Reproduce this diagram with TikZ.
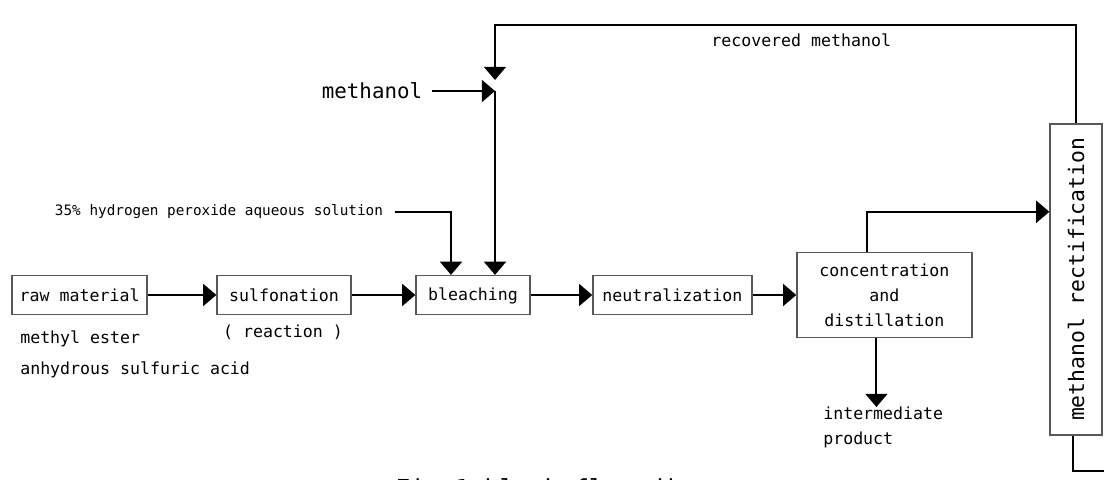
\documentclass[tikz,border=0pt]{standalone}
\usepackage{graphicx}
\usepackage{fontspec}
\setmonofont{DejaVu Sans Mono}
\usepackage{tikz}
\usetikzlibrary{arrows.meta}
\tikzset{
  flowarrow/.style={-{Triangle[length=0.33cm, width=0.55cm]}, line width=1.4pt},
  flowline/.style={line width=1.4pt},
  procbox/.style={draw=black!65, line width=0.9pt, inner sep=0pt, minimum height=0.975cm, align=center, font=\ttfamily\fontsize{11.8}{17.8}\selectfont},
  sidetext/.style={inner sep=0pt, font=\ttfamily\fontsize{11.8}{17.8}\selectfont}
}

\begin{document}
\begin{tikzpicture}
  \useasboundingbox (0,0) rectangle (27.6,11.975);
  % process boxes
  \node[procbox, minimum width=3.375cm] (raw) at (1.99,4.6) {raw material};
  \node[procbox, minimum width=3.35cm] (sulf) at (7.1,4.6) {sulfonation};
  \node[procbox, minimum width=2.85cm] (bleach) at (11.825,4.6) {bleaching\strut};
  \node[procbox, minimum width=3.975cm] (neutral) at (16.81,4.6) {neutralization};
  \node[procbox, minimum width=4.375cm, minimum height=2.125cm] (conc) at (22.11,4.6) {concentration\\and\\distillation};
  \node[procbox, minimum width=1.3cm, minimum height=7.775cm, font=\ttfamily\fontsize{15.2}{18}\selectfont] (rect) at (26.9,4.99) {\rotatebox{90}{methanol rectification}};
  % texts
  \node[sidetext] (react) at (7.075,3.675) {( reaction )};
  \node[sidetext, anchor=west] (ester) at (0.5,3.5) {methyl ester};
  \node[sidetext, anchor=west] (acid) at (0.5,2.725) {anhydrous sulfuric acid};
  \node[sidetext, font=\ttfamily\fontsize{10.2}{12}\selectfont] (h2o2) at (5.475,6.675) {35\% hydrogen peroxide aqueous solution};
  \node[sidetext, font=\ttfamily\fontsize{14.8}{17}\selectfont] (meoh) at (9.3,9.7) {methanol};
  \node[sidetext] (recov) at (20.03,10.975) {recovered methanol};
  \node[sidetext, anchor=north west, align=left] (prod) at (20.575,1.8) {intermediate\\product};
  \node[sidetext, anchor=base west, font=\ttfamily\fontsize{17.6}{20}\selectfont] (caption) at (9.875,-0.45) {Fig.1 block flow diagram};
  \coordinate (mix) at (12.375,9.7);
  \coordinate (loop) at (12.375,11.35);
  \coordinate (exit) at (27.6,0.2);
  \coordinate (drop) at ([xshift=-0.2cm]conc.south);
  % main line
  \draw[flowarrow] (raw) -- (sulf);
  \draw[flowarrow] (sulf) -- (bleach);
  \draw[flowarrow] (bleach) -- (neutral);
  \draw[flowarrow] (neutral) -- (conc);
  \draw[flowarrow] (drop) -- (drop |- prod.north);
  \draw[flowarrow] ([xshift=-0.44cm]conc.north) |- ([yshift=1.69cm]rect.west);
  % methanol loop
  \draw[flowarrow] (rect.north) |- (loop) -- ([yshift=0.275cm]mix);
  \draw[flowarrow] ([xshift=0.25cm]meoh.east) -- (mix);
  \draw[flowarrow] (mix) -- (mix |- bleach.north);
  \draw[flowarrow] ([xshift=0.3cm]h2o2.east) -| ([xshift=-0.55cm]bleach.north);
  \draw[flowline] ([xshift=-0.075cm]rect.south) |- (exit);
\end{tikzpicture}
\end{document}
